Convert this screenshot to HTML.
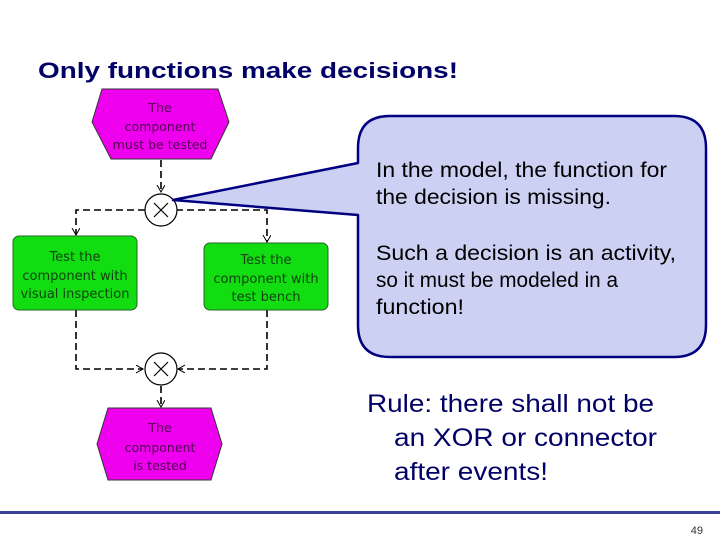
<!DOCTYPE html>
<html><head><meta charset="utf-8"><style>
html,body{margin:0;padding:0;background:#fff;}
svg{display:block;}
</style></head><body>
<svg width="720" height="540" viewBox="0 0 720 540" xmlns="http://www.w3.org/2000/svg">
<defs>
<marker id="ah" markerWidth="10" markerHeight="10" refX="7" refY="4" orient="auto" markerUnits="userSpaceOnUse">
<path d="M0,0 L7,4 L0,8" fill="none" stroke="#000" stroke-width="1"/>
</marker>
</defs>
<rect width="720" height="540" fill="#fff"/>
<text x="38" y="78" font-family="Liberation Sans, sans-serif" font-size="22" font-weight="bold" fill="#000066" textLength="420" lengthAdjust="spacingAndGlyphs">Only functions make decisions!</text>

<polygon points="92,122 102,89 218,89 229,122 211,159 111,159" fill="#ee00ee" stroke="#333" stroke-width="1"/>
<g font-family="DejaVu Sans, sans-serif" font-size="12.5" fill="#500050" text-anchor="middle">
<text x="160" y="112">The</text>
<text x="160" y="131">component</text>
<text x="160" y="149">must be tested</text>
</g>

<g fill="none" stroke="#000" stroke-width="1.6" stroke-dasharray="7,4">
<line x1="161" y1="160" x2="161" y2="192" marker-end="url(#ah)"/>
<polyline points="145,210 76,210 76,235" marker-end="url(#ah)"/>
<polyline points="176,210 267,210 267,242" marker-end="url(#ah)"/>
<polyline points="76,310 76,369 143,369" marker-end="url(#ah)"/>
<polyline points="267,310 267,369 178,369" marker-end="url(#ah)"/>
<line x1="161" y1="386" x2="161" y2="407" marker-end="url(#ah)"/>
</g>

<g fill="#fff" stroke="#000" stroke-width="1.2">
<circle cx="161" cy="210" r="16"/>
<circle cx="161" cy="369" r="16"/>
</g>
<g stroke="#000" stroke-width="1.2">
<path d="M154,203 L168,217 M168,203 L154,217"/>
<path d="M154,362 L168,376 M168,362 L154,376"/>
</g>

<rect x="13" y="236" width="124" height="74" rx="6" fill="#11dd11" stroke="#226622" stroke-width="1"/>
<rect x="204" y="243" width="124" height="67" rx="6" fill="#11dd11" stroke="#226622" stroke-width="1"/>
<g font-family="DejaVu Sans, sans-serif" font-size="13" fill="#114411" text-anchor="middle">
<text x="75" y="261">Test the</text>
<text x="75" y="280">component with</text>
<text x="75" y="298">visual inspection</text>
<text x="266" y="264">Test the</text>
<text x="266" y="283">component with</text>
<text x="266" y="301">test bench</text>
</g>

<polygon points="97,444 108,408 211,408 222,444 211,480 108,480" fill="#ee00ee" stroke="#333" stroke-width="1"/>
<g font-family="DejaVu Sans, sans-serif" font-size="12.5" fill="#500050" text-anchor="middle">
<text x="160" y="432">The</text>
<text x="160" y="452">component</text>
<text x="160" y="470">is tested</text>
</g>

<path d="M390,116 L674,116 Q706,116 706,148 L706,325 Q706,357 674,357 L390,357 Q358,357 358,325 L358,215 L173,200 L358,163 L358,148 Q358,116 390,116 Z" fill="#ccd0f2" stroke="#000080" stroke-width="2.5" stroke-linejoin="round"/>
<g font-family="Liberation Sans, sans-serif" font-size="21" fill="#000">
<text x="376" y="177" textLength="291" lengthAdjust="spacingAndGlyphs">In the model, the function for</text>
<text x="376" y="204" textLength="235" lengthAdjust="spacingAndGlyphs">the decision is missing.</text>
<text x="376" y="260" textLength="300" lengthAdjust="spacingAndGlyphs">Such a decision is an activity,</text>
<text x="376" y="287" textLength="242" lengthAdjust="spacingAndGlyphs">so it must be modeled in a</text>
<text x="376" y="314" textLength="88" lengthAdjust="spacingAndGlyphs">function!</text>
</g>

<g font-family="Liberation Sans, sans-serif" font-size="25" fill="#000066">
<text x="367" y="412" textLength="287" lengthAdjust="spacingAndGlyphs">Rule: there shall not be</text>
<text x="394" y="446" textLength="263" lengthAdjust="spacingAndGlyphs">an XOR or connector</text>
<text x="394" y="480" textLength="154" lengthAdjust="spacingAndGlyphs">after events!</text>
</g>

<rect x="0" y="511" width="720" height="3" fill="#3b3f9a"/>
<text x="703" y="534" font-family="Liberation Sans, sans-serif" font-size="11" fill="#333" text-anchor="end">49</text>
</svg>
</body></html>
